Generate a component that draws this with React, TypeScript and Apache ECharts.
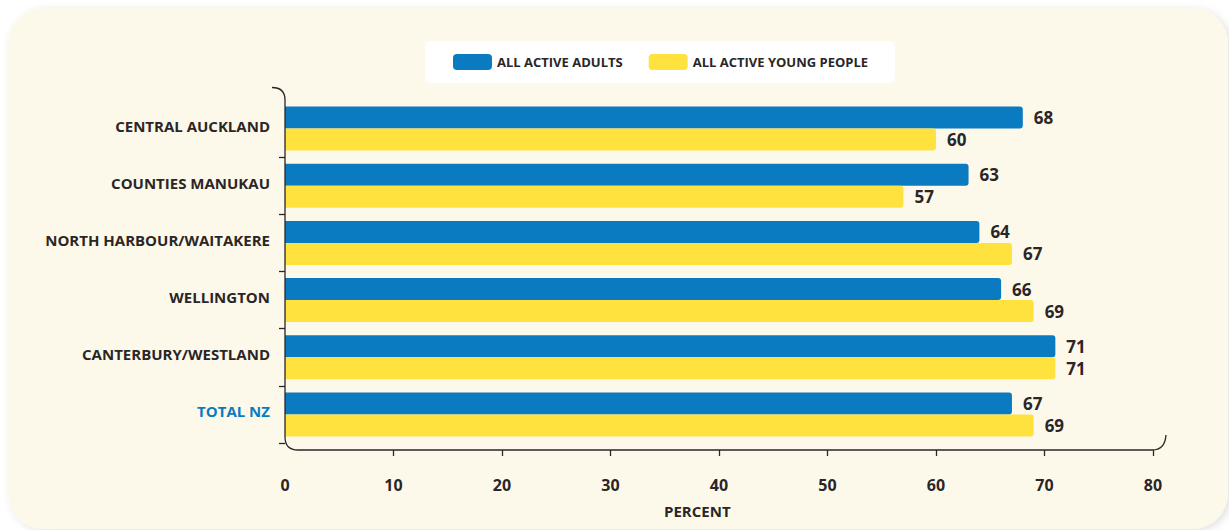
import React, { useEffect, useRef } from "react";
import * as echarts from "echarts";

const categories = [
  "CENTRAL AUCKLAND",
  "COUNTIES MANUKAU",
  "NORTH HARBOUR/WAITAKERE",
  "WELLINGTON",
  "CANTERBURY/WESTLAND",
  "TOTAL NZ",
];
const adults = [68, 63, 64, 66, 71, 67];
const young = [60, 57, 67, 69, 71, 69];
const xTicks = [10, 20, 30, 40, 50, 60, 70, 80];
const seriesNames = ["ALL ACTIVE ADULTS", "ALL ACTIVE YOUNG PEOPLE"];

const FONT = "'Open Sans', 'Noto Sans', sans-serif";
const TEXT = "#2a2627";
const BLUE = "#0a7bc1";
const YELLOW = "#ffe23e";

const axisPath =
  "M272,87.5 Q285,87.5 285,100 L285,437 Q285,450 298,450 L1152,450 Q1165,450 1166,435";
echarts.graphic.registerShape(
  "axisFrame",
  echarts.graphic.extendPath(axisPath, {}) as any
);

export default function App() {
  const ref = useRef<HTMLDivElement>(null);
  useEffect(() => {
    if (!ref.current) return;
    const chart = echarts.init(ref.current, undefined, { renderer: "svg" });
    const valueLabel = {
      show: true,
      position: "right",
      distance: 11,
      fontFamily: FONT,
      fontWeight: "bold",
      fontSize: 17,
      color: TEXT,
    };
    chart.setOption({
      animation: false,
      backgroundColor: "#ffffff",
      graphic: [
        {
          type: "rect",
          z: -10,
          silent: true,
          shape: { x: 8, y: 8, width: 1220, height: 521, r: 36 },
          style: {
            fill: "#fdf9ea",
            shadowBlur: 8,
            shadowColor: "rgba(0,0,0,0.12)",
            shadowOffsetX: 3,
            shadowOffsetY: 2,
          },
        },
        {
          type: "axisFrame",
          x: 0,
          y: 0,
          z: 5,
          silent: true,
          style: { fill: "none", stroke: "#2a2627", lineWidth: 1.3 },
        },
        {
          type: "text",
          left: 664,
          top: 503,
          silent: true,
          style: {
            text: "PERCENT",
            font: `bold 15px ${FONT}`,
            fill: TEXT,
          },
        },
      ],
      legend: {
        left: 425,
        top: 41,
        data: seriesNames,
        icon: "roundRect",
        itemWidth: 39,
        itemHeight: 16,
        itemGap: 26,
        backgroundColor: "#ffffff",
        borderRadius: 6,
        padding: [13, 27, 13, 28],
        textStyle: {
          fontFamily: FONT,
          fontWeight: "bold",
          fontSize: 13,
          color: TEXT,
        },
      },
      grid: { left: 285, right: 76, top: 100, bottom: 87, containLabel: false },
      xAxis: {
        type: "value",
        min: 0,
        max: 80,
        interval: 10,
        offset: 7,
        axisLine: { show: false },
        splitLine: { show: false },
        axisTick: {
          show: true,
          length: 6,
          customValues: xTicks,
          lineStyle: { color: "#2a2627", width: 1.3 },
        },
        axisLabel: {
          margin: 27,
          fontFamily: FONT,
          fontWeight: "bold",
          fontSize: 16,
          color: TEXT,
        },
      },
      yAxis: {
        type: "category",
        data: categories,
        inverse: true,
        axisLine: { show: false },
        axisTick: {
          show: true,
          length: 6,
          interval: (i: number) => i !== 0,
          lineStyle: { color: "#2a2627", width: 1.3 },
        },
        axisLabel: {
          margin: 15,
          verticalAlign: "bottom",
          lineHeight: 6,
          fontFamily: FONT,
          fontWeight: "bold",
          fontSize: 15,
          color: (v: string) => (v === "TOTAL NZ" ? BLUE : TEXT),
        },
      },
      series: [
        {
          name: seriesNames[0],
          type: "bar",
          data: adults,
          barWidth: 22,
          barGap: "0%",
          itemStyle: { color: BLUE, borderRadius: [0, 3, 3, 0] },
          label: valueLabel,
        },
        {
          name: seriesNames[1],
          type: "bar",
          data: young,
          barWidth: 22,
          itemStyle: { color: YELLOW, borderRadius: [0, 3, 3, 0] },
          label: valueLabel,
        },
      ],
    });
    return () => chart.dispose();
  }, []);
  return (
    <div
      ref={ref}
      style={{ position: "fixed", left: 0, top: 0, width: 1229, height: 530 }}
    />
  );
}
